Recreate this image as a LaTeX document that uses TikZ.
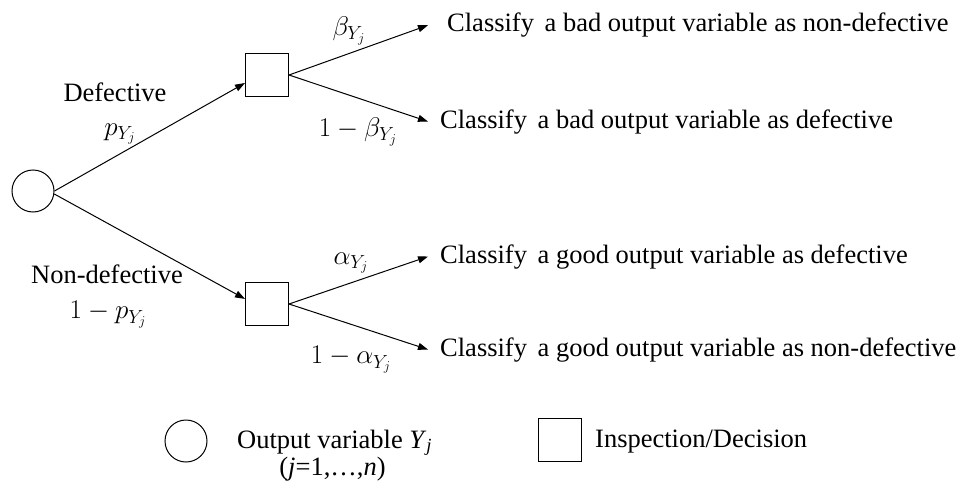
\RequirePackage{fix-cm}
\documentclass[tikz,border=0pt]{standalone}
\usepackage{fontspec}
\setmainfont{Liberation Serif}
\usetikzlibrary{arrows.meta}
\begin{document}
\begin{tikzpicture}[x=1pt,y=-1pt,
  txt/.style={font=\fontsize{26.5}{31}\selectfont, inner sep=0pt},
  mlab/.style={font=\fontsize{27}{32}\selectfont, inner sep=0pt},
  chance/.style={circle, draw, line width=1pt, minimum size=42pt, inner sep=0pt},
  decision/.style={rectangle, draw, line width=1pt, minimum size=43pt, inner sep=0pt},
  branch/.style={line width=1pt, -{Triangle[length=10pt,width=7pt]}},
]
\useasboundingbox (0,0) rectangle (962,490);

% tree nodes
\node[chance]   (root) at (33,191) {};
\node[decision] (sq1)  at (267,75) {};
\node[decision] (sq2)  at (267,304) {};

% outcomes
\node[txt, anchor=base west, inner xsep=19pt] (o1) at (428,31.7)
  {Classify\hspace{4pt} a bad output variable as non-defective};
\node[txt, anchor=base west, inner xsep=12pt] (o2) at (428,128)
  {Classify\hspace{4pt} a bad output variable as defective};
\node[txt, anchor=base west, inner xsep=12pt] (o3) at (428,263)
  {Classify\hspace{4pt} a good output variable as defective};
\node[txt, anchor=base west, inner xsep=12pt] (o4) at (428,356)
  {Classify\hspace{4pt} a good output variable as non-defective};

% branches
\draw[branch] (root.east) -- (sq1.200);
\draw[branch] (root.-8)   -- (sq2.167);
\draw[branch] (sq1.east) -- (o1.west);
\draw[branch] (sq1.east) -- (o2.west);
\draw[branch] (sq2.east) -- (o3.west);
\draw[branch] (sq2.east) -- (o4.west);

% branch labels
\node[txt, anchor=base] (ldef) at (115,101) {Defective};
\node[mlab] (lp) at (120,134) {$p_{Y_j}$};
\node[txt, anchor=base] (lndef) at (107,283) {Non-defective};
\node[mlab] (l1p) at (108,315) {$1-p_{Y_j}$};
\node[mlab] (lb) at (349,31) {$\beta_{Y_j}$};
\node[mlab] (l1b) at (358,132) {$1-\beta_{Y_j}$};
\node[mlab] (la) at (351,263) {$\alpha_{Y_j}$};
\node[mlab] (l1a) at (351,360) {$1-\alpha_{Y_j}$};

% legend
\node[chance] (lc) at (186,441) {};
\node[txt, anchor=base west] (lct) at (237,448) {Output variable \textit{Y}\textsubscript{\textit{j}}};
\node[txt, anchor=base] (lcn) at (332.5,475) {(\textit{j}=1,\ldots,\textit{n})};
\node[decision] (ls) at (559.5,440) {};
\node[txt, anchor=base west] (lst) at (595,447) {Inspection/Decision};
\end{tikzpicture}
\end{document}
